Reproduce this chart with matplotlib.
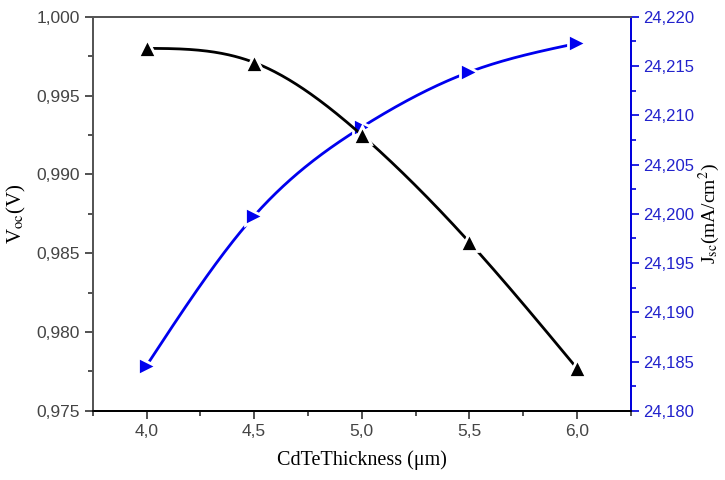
import numpy as np
import matplotlib.pyplot as plt
from matplotlib.ticker import MultipleLocator, FuncFormatter

plt.rcParams["mathtext.fontset"] = "stix"

# data
thickness = [4.0, 4.5, 5.0, 5.5, 6.0]
voc = [0.9980, 0.9971, 0.9925, 0.9857, 0.9777]
jsc = [24.1846, 24.1998, 24.2088, 24.2144, 24.2173]


def spline(x, y, xs):
    # natural cubic spline, only used to draw the smooth connecting line
    x = np.asarray(x, float)
    y = np.asarray(y, float)
    n = len(x)
    h = np.diff(x)
    A = np.zeros((n, n))
    r = np.zeros(n)
    A[0, 0] = A[-1, -1] = 1
    for i in range(1, n - 1):
        A[i, i - 1] = h[i - 1]
        A[i, i] = 2 * (h[i - 1] + h[i])
        A[i, i + 1] = h[i]
        r[i] = 6 * ((y[i + 1] - y[i]) / h[i] - (y[i] - y[i - 1]) / h[i - 1])
    M = np.linalg.solve(A, r)
    k = np.clip(np.searchsorted(x, xs) - 1, 0, n - 2)
    a = x[k + 1] - xs
    b = xs - x[k]
    hk = h[k]
    return (M[k] * a**3 / (6 * hk) + M[k + 1] * b**3 / (6 * hk)
            + (y[k] / hk - M[k] * hk / 6) * a
            + (y[k + 1] / hk - M[k + 1] * hk / 6) * b)


comma2 = FuncFormatter(lambda v, p: f"{v:.1f}".replace(".", ","))
comma3 = FuncFormatter(lambda v, p: f"{v:.3f}".replace(".", ","))

fig = plt.figure(figsize=(7.25, 4.8), dpi=100)
ax1 = fig.add_axes([0.128, 0.144, 0.742, 0.821])
ax2 = ax1.twinx()

xs = np.linspace(thickness[0], thickness[-1], 300)
v_line = spline(thickness, voc, xs)
j_line = spline(thickness, jsc, xs)

ax2.plot(xs, j_line, color="#0000ee", lw=2, zorder=1)
ax2.plot(thickness, jsc, ls="none", marker=">", ms=13, color="#0000ee",
         mec="white", mew=2, zorder=2)
ax1.plot(xs, v_line, color="black", lw=2, zorder=1)
ax1.plot(thickness, voc, ls="none", marker="^", ms=13, color="black",
         mec="white", mew=2, zorder=2)

ax1.set_zorder(ax2.get_zorder() + 1)
ax1.patch.set_visible(False)

ax1.set_xlim(3.75, 6.25)
ax1.set_ylim(0.975, 1.000)
ax2.set_ylim(24.180, 24.220)

ax1.xaxis.set_major_locator(MultipleLocator(0.5))
ax1.xaxis.set_minor_locator(MultipleLocator(0.25))
ax1.yaxis.set_major_locator(MultipleLocator(0.005))
ax1.yaxis.set_minor_locator(MultipleLocator(0.0025))
ax2.yaxis.set_major_locator(MultipleLocator(0.005))
ax2.yaxis.set_minor_locator(MultipleLocator(0.0025))
ax1.xaxis.set_major_formatter(comma2)
ax1.yaxis.set_major_formatter(comma3)
ax2.yaxis.set_major_formatter(comma3)

tick_font = "Liberation Sans"
for lab in ax1.get_xticklabels() + ax1.get_yticklabels():
    lab.set_fontfamily(tick_font)
for lab in ax2.get_yticklabels():
    lab.set_fontfamily(tick_font)

ax1.tick_params(axis="both", which="major", direction="out", length=6, width=1.2,
                labelsize=12.5, colors="#333333", labelcolor="#444444")
ax1.tick_params(axis="both", which="minor", direction="out", length=3.5, width=1.2,
                colors="#333333")
ax2.tick_params(axis="y", which="major", direction="out", length=6, width=1.2,
                labelsize=12, pad=3, colors="#0000dd", labelcolor="#2222cc")
ax2.tick_params(axis="y", which="minor", direction="out", length=3.5, width=1.2,
                colors="#0000dd")

for ax in (ax1, ax2):
    ax.spines["top"].set_color("#555555")
    ax.spines["left"].set_color("#555555")
    ax.spines["bottom"].set_color("black")
    ax.spines["right"].set_color("#0000dd")
    for s in ax.spines.values():
        s.set_linewidth(1.3)

ax1.set_xlabel("CdTeThickness (\u03bcm)", family="Liberation Serif", fontsize=14.5,
               labelpad=8)
ax1.set_ylabel("V$_{\\mathrm{oc}}$(V)", family="Liberation Serif", fontsize=15,
               labelpad=6)
ax2.set_ylabel("J$_{\\mathrm{sc}}$(mA/cm$^{2}$)", family="Liberation Serif",
               fontsize=14, labelpad=2)

fig.savefig("out.png", dpi=100)
